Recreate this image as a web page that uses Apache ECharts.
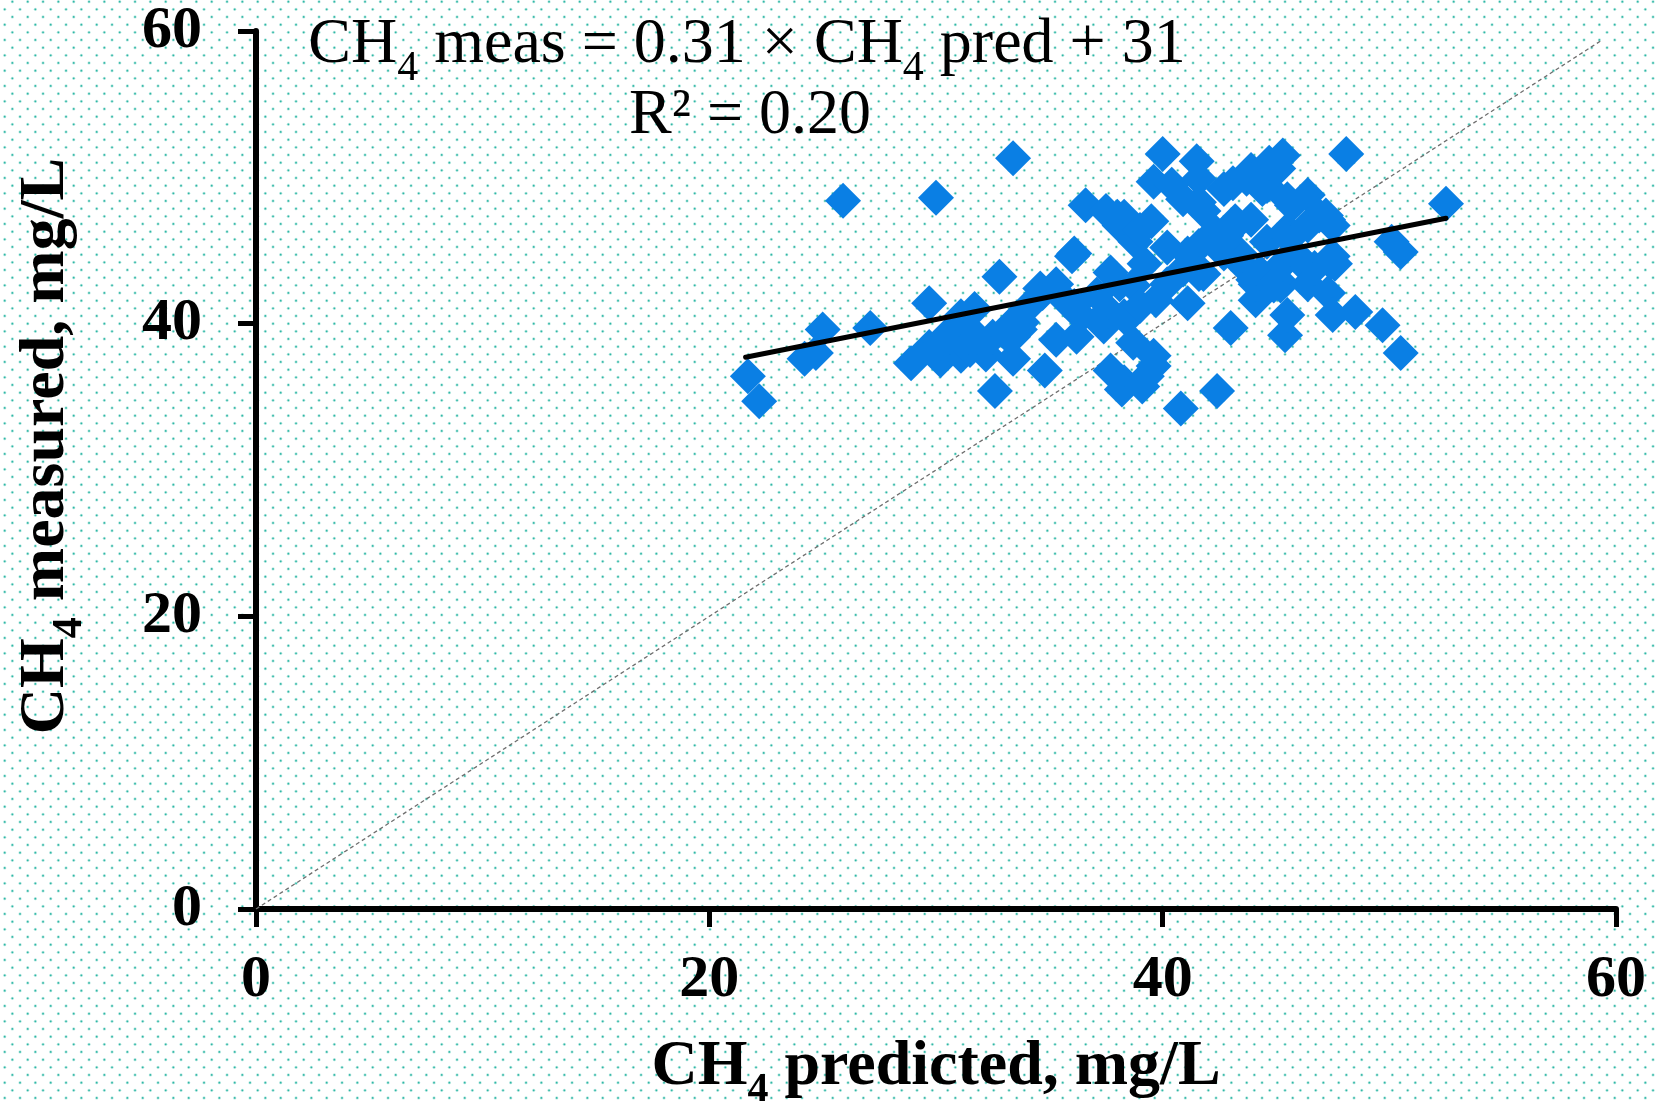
<!DOCTYPE html>
<html>
<head>
<meta charset="utf-8">
<script src="https://cdn.jsdelivr.net/npm/echarts@6/dist/echarts.min.js"></script>
<style>
html,body{margin:0;padding:0;background:#fff;}
#c{width:1655px;height:1101px;}
</style>
</head>
<body>
<div id="c"></div>
<script>
// ---- data ----
const predX = [21.7,22.2,24.2,24.7,25.0,25.9,27.1,28.9,29.7,29.7,30.2,30.0,30.2,30.6,31.1,31.1,31.5,31.7,32.2,32.5,32.6,32.8,33.4,33.4,33.7,33.8,33.4,34.1,34.6,34.7,34.8,35.3,35.7,36.0,36.1,36.2,36.4,36.6,30.6,31.8,31.1,33.2,36.1,
  37.1,37.4,37.5,37.6,37.7,37.7,38.0,38.1,38.1,38.2,38.3,38.3,38.4,38.3,38.7,38.7,38.8,39.0,39.0,39.1,39.2,39.3,39.5,39.6,39.6,39.6,39.7,40.0,40.2,40.2,40.4,40.8,40.9,40.9,41.1,41.1,41.5,41.6,41.6,41.6,41.6,41.8,41.8,42.3,42.4,42.7,42.7,42.8,43.0,43.0,43.1,43.2,43.4,43.4,43.7,43.9,43.9,44.0,44.1,44.1,44.3,44.4,44.6,44.6,44.7,44.9,45.1,45.1,45.2,45.3,45.3,45.4,45.5,45.5,45.5,45.6,45.7,46.0,46.1,46.4,46.4,46.4,46.4,46.7,46.9,47.2,47.3,47.3,47.4,47.5,47.5,47.5,47.6,48.1,48.5,49.7,50.1,50.5,50.5,52.5,33.4,35.3];
const measY = [36.4,34.7,37.6,38.0,39.6,48.4,39.7,37.3,41.4,38.4,37.5,48.6,38.7,39.4,40.1,37.8,38.2,41.0,37.9,39.1,35.4,43.2,51.3,39.1,39.6,40.1,37.6,41.2,42.4,42.1,36.8,42.7,41.6,44.6,44.8,39.1,40.5,48.1,39.1,39.1,40.5,39.1,41.2,
  42.0,39.8,47.7,40.9,36.8,43.5,47.3,46.7,42.7,35.5,36.0,40.5,40.3,47.3,42.6,38.7,45.6,41.2,46.4,35.7,44.1,36.4,47.0,37.8,37.1,49.7,41.6,51.6,45.2,42.7,49.5,34.2,48.5,43.7,44.8,41.4,51.1,49.9,48.3,45.3,43.4,47.7,43.4,46.3,35.4,49.2,44.8,46.0,39.7,46.4,49.6,47.0,44.8,44.2,49.9,50.5,47.1,43.0,41.6,42.7,43.5,49.2,45.6,49.4,51.0,42.6,50.6,43.0,42.6,51.5,44.1,39.2,40.6,48.5,46.4,45.8,48.1,44.5,44.2,48.8,46.7,43.9,42.7,43.8,47.4,47.4,47.1,42.1,44.2,44.6,40.6,46.7,44.1,51.6,40.8,39.9,45.6,44.9,38.0,48.2,40.1,38.9];
const trendX = [21.6, 52.5];
const trendY = [37.7, 47.2];
const oneToOneX = [0, 59.4];
const oneToOneY = [0, 59.4];
const axisTicks = [0, 20, 40, 60];
const xTitle = ['CH', '4', ' predicted, mg/L'];
const yTitle = ['CH', '4', ' measured, mg/L'];
const eqLine1 = ['CH', '4', ' meas = 0.31 × CH', '4', ' pred + 31'];
const eqLine2 = 'R² = 0.20';

// ---- background dot pattern ----
function makePattern(){
  const c = document.createElement('canvas');
  c.width = 46; c.height = 46;
  const g = c.getContext('2d');
  g.fillStyle = '#ffffff'; g.fillRect(0,0,46,46);
  const dy = 46/6, dx = 46/3;
  for (let j=0;j<6;j++){
    const y = 1.63 + j*dy;
    const off = (j%2===1) ? 4.7 : 12.37;
    for (let k=0;k<3;k++){
      const x = off + k*dx;
      for (const [sx,sy] of [[0,0],[46,0],[0,46],[-46,0],[0,-46]]){
        g.fillStyle = 'rgba(60,190,172,0.35)';
        g.beginPath(); g.arc(x+sx,y+sy,1.6,0,Math.PI*2); g.fill();
        g.fillStyle = '#2fb7a5';
        g.beginPath(); g.arc(x+sx,y+sy,0.9,0,Math.PI*2); g.fill();
      }
    }
  }
  return c;
}

const FONT = "'Liberation Serif','Times New Roman',serif";
const chart = echarts.init(document.getElementById('c'), null, {renderer:'canvas'});

function richTitle(parts){
  return '{n|' + parts[0] + '}{s|' + parts[1] + '}{n|' + parts[2] + '}';
}

const scatterData = predX.map((x,i)=>[x, measY[i]]);
const trendData = trendX.map((x,i)=>[x, trendY[i]]);
const oneData = oneToOneX.map((x,i)=>[x, oneToOneY[i]]);

const titleRich = {
  n: {fontFamily: FONT, fontWeight:'bold', fontSize: 64, color:'#000', lineHeight: 64},
  s: {fontFamily: FONT, fontWeight:'bold', fontSize: 42, color:'#000', lineHeight: 90, verticalAlign:'bottom'}
};

chart.setOption({
  animation: false,
  backgroundColor: '#ffffff',
  grid: {left: 256, right: 39, top: 31, bottom: 192, containLabel: false, outerBoundsMode: 'none'},
  xAxis: {
    type: 'value', min: axisTicks[0], max: axisTicks[axisTicks.length-1], interval: 20,
    splitLine: {show:false},
    axisLine: {show:true, onZero:false, lineStyle:{color:'#000', width:6}},
    axisTick: {show:true, length:18, lineStyle:{color:'#000', width:5}},
    axisLabel: {margin: 41, color:'#000', fontFamily: FONT, fontWeight:'bold', fontSize: 60},
    name: richTitle(xTitle), nameLocation:'middle', nameGap: 113,
    nameTextStyle: { rich: titleRich }
  },
  yAxis: {
    type: 'value', min: axisTicks[0], max: axisTicks[axisTicks.length-1], interval: 20,
    splitLine: {show:false},
    axisLine: {show:true, onZero:false, lineStyle:{color:'#000', width:6}},
    axisTick: {show:true, length:18, lineStyle:{color:'#000', width:5}},
    axisLabel: {margin: 54, color:'#000', fontFamily: FONT, fontWeight:'bold', fontSize: 60},
    name: richTitle(yTitle), nameLocation:'middle', nameGap: 165, nameRotate: 90,
    nameTextStyle: { padding: [0,0,0,48], rich: titleRich }
  },
  graphic: [
    {type:'rect', z:-100, zlevel:0, silent:true, shape:{x:0,y:0,width:1655,height:1101},
     style:{fill:{image: makePattern(), repeat:'repeat'}}},
    {type:'text', x: 747, y: 0, z: 100, style: {
      text: '{n|' + eqLine1[0] + '}{s|' + eqLine1[1] + '}{n|' + eqLine1[2] + '}{s|' + eqLine1[3] + '}{n|' + eqLine1[4] + '}',
      align:'center', verticalAlign:'top',
      rich: {
        n: {fontFamily: FONT, fontSize: 64, color:'#000', lineHeight: 64},
        s: {fontFamily: FONT, fontSize: 42, color:'#000', lineHeight: 90, verticalAlign:'bottom'}
      }
    }},
    {type:'text', x: 750, y: 84, z: 100, style: {
      text: eqLine2, align:'center', verticalAlign:'top',
      fontFamily: FONT, fontSize: 64, fill:'#000'
    }}
  ],
  series: [
    {type:'line', data: oneData, symbol:'none', z:1,
     lineStyle:{color:'#6e6e6e', width:1.3, type:[4,3]}},
    {type:'scatter', data: scatterData, symbol:'diamond', symbolSize: 36, z:2,
     itemStyle:{color:'#0a7fe4', opacity:1}},
    {type:'line', data: trendData, symbol:'none', z:3,
     lineStyle:{color:'#000', width:5, cap:'round'}}
  ]
});
</script>
</body>
</html>
